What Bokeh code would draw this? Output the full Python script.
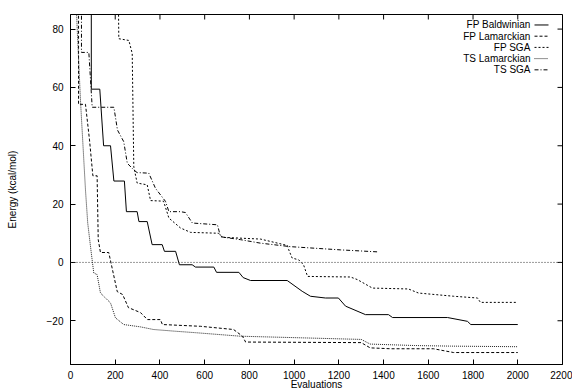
from bokeh.plotting import figure
from bokeh.models import FixedTicker, Span, Label, Range1d
from bokeh.embed import file_html
from bokeh.resources import INLINE

# ---- data ----
eval_ticks = [0, 200, 400, 600, 800, 1000, 1200, 1400, 1600, 1800, 2000, 2200]
energy_ticks = [-20, 0, 20, 40, 60, 80]

series_names = ["FP Baldwinian", "FP Lamarckian", "FP SGA", "TS Lamarckian", "TS SGA"]

fp_baldwinian_x = [93, 93, 131, 148, 179, 194, 241, 250, 298, 306, 343, 365, 410, 420, 470, 487, 544, 559,
                   641, 653, 753, 772, 805, 969, 1036, 1073, 1140, 1198, 1230, 1319, 1422, 1440, 1686, 1775,
                   1790, 2000]
fp_baldwinian_y = [100, 59.4, 59.4, 40, 40, 27.9, 27.9, 17.4, 17.4, 14, 14, 6.1, 6.1, 3.8, 3.8, -0.8, -0.8, -1.6,
                   -1.6, -3.4, -3.4, -5.2, -6.2, -6.2, -9.9, -11.6, -12.2, -12.2, -15, -17.9, -17.9, -18.9, -18.9,
                   -20.2, -21.3, -21.3]

fp_lamarckian_x = [36, 36, 67, 85, 100, 119, 124, 134, 171, 209, 233, 259, 313, 344, 402, 411, 581, 729, 769,
                   783, 1300, 1340, 1431, 1623, 1713, 2000]
fp_lamarckian_y = [100, 54.2, 54.2, 42, 29.7, 29.7, 7.8, 3.4, 3.4, -10, -11, -15.5, -17.2, -19.6, -19.6, -21.3,
                   -21.9, -23, -25.3, -27.3, -27.5, -29.3, -29.6, -29.6, -30.9, -30.9]

fp_sga_x = [213, 216, 261, 276, 283, 298, 343, 358, 416, 440, 492, 537, 662, 680, 850, 970, 976, 991, 1020, 1042,
            1060, 1252, 1283, 1350, 1511, 1556, 1713, 1820, 1833, 2000]
fp_sga_y = [100, 76.7, 76.1, 71.6, 32.8, 27.2, 26.6, 21.2, 21.0, 15.2, 11.8, 10.3, 10.0, 8.6, 8.0, 5.8, 4.3, 1.5,
            0.9, -0.8, -4.8, -5.0, -5.9, -8.8, -9.1, -10.5, -11.6, -12.2, -13.7, -13.7]

ts_lamarckian_x = [20, 30, 36, 45, 67, 77, 93, 104, 119, 134, 179, 201, 238, 313, 371, 470, 560, 760, 1300, 1340,
                   1540, 1700, 2000]
ts_lamarckian_y = [100, 80, 70, 55, 24.8, 13.5, 3.2, -3.6, -4.2, -10.5, -13.9, -19, -21.3, -22.1, -23, -23.6,
                   -24.1, -25.3, -26.4, -28, -28.5, -28.7, -28.9]

ts_sga_x = [49, 49, 82, 97, 194, 210, 238, 254, 283, 298, 350, 380, 425, 440, 492, 514, 545, 657, 671, 760, 850,
            984, 1207, 1377]
ts_sga_y = [100, 72, 72, 53.2, 53.2, 45.4, 41.4, 34, 31.7, 30.8, 30.6, 25.4, 20.9, 17.4, 17.4, 17.1, 13.5, 12.9,
            8.8, 7.8, 6.6, 5.4, 4.3, 3.6]

# ---- styling ----
FONT = "Liberation Sans"
X0, X1 = 0, 2200
Y0, Y1 = -35, 85
FRAME_W, FRAME_H = 492, 351
TICK_PX = 5

p = figure(width=572, height=392, output_backend="svg", toolbar_location=None,
           x_range=Range1d(X0, X1), y_range=Range1d(Y0, Y1),
           min_border_left=70, min_border_right=10, min_border_top=14, min_border_bottom=27)
p.xgrid.visible = False
p.ygrid.visible = False
p.outline_line_color = "black"
p.outline_line_width = 1
p.background_fill_color = "white"
p.border_fill_color = "white"


def style_axis(ax, ticks):
    ax.ticker = FixedTicker(ticks=ticks)
    ax.major_tick_in = TICK_PX
    ax.major_tick_out = 0
    ax.minor_tick_line_color = None
    ax.axis_line_color = "black"
    ax.major_tick_line_color = "black"
    ax.major_label_text_font = FONT
    ax.major_label_text_font_size = "10px"
    ax.major_label_text_color = "black"
    ax.axis_label_text_font = FONT
    ax.axis_label_text_font_size = "10px"
    ax.axis_label_text_font_style = "normal"
    ax.axis_label_text_color = "black"


xa = p.xaxis[0]
style_axis(xa, eval_ticks)
xa.axis_label = "Evaluations"
xa.major_label_standoff = 6
xa.axis_label_standoff = -3

ya = p.yaxis[0]
style_axis(ya, energy_ticks)
ya.axis_label = "Energy (kcal/mol)"
ya.major_label_standoff = 7
ya.axis_label_standoff = 26

# mirrored ticks on the top and right borders (gnuplot style)
px_per_x = FRAME_W / (X1 - X0)
px_per_y = FRAME_H / (Y1 - Y0)
tick_dy = TICK_PX / px_per_y
tick_dx = TICK_PX / px_per_x
p.segment(x0=eval_ticks, y0=[Y1] * len(eval_ticks), x1=eval_ticks, y1=[Y1 - tick_dy] * len(eval_ticks),
          line_color="black", line_width=1)
p.segment(x0=[X1] * len(energy_ticks), y0=energy_ticks, x1=[X1 - tick_dx] * len(energy_ticks), y1=energy_ticks,
          line_color="black", line_width=1)

# zero axis
p.add_layout(Span(location=0, dimension="width", line_color="#333333", line_width=1, line_dash="1 2"))

styles = [
    dict(line_dash="solid", line_color="black"),
    dict(line_dash="3 2", line_color="black"),
    dict(line_dash="2 2", line_color="black"),
    dict(line_dash="1 1", line_color="#222222"),
    dict(line_dash="4 2 1 2", line_color="black"),
]
xs = [fp_baldwinian_x, fp_lamarckian_x, fp_sga_x, ts_lamarckian_x, ts_sga_x]
ys = [fp_baldwinian_y, fp_lamarckian_y, fp_sga_y, ts_lamarckian_y, ts_sga_y]

for x, y, st in zip(xs, ys, styles):
    p.line(x, y, line_width=1, **st)

# ---- key (text right-aligned, sample to its right), gnuplot style ----
key_text_x = X0 + (530 - 70) / px_per_x
key_line_x0 = X0 + (534 - 70) / px_per_x
key_line_x1 = X0 + (548 - 70) / px_per_x
row_top_px = 24.5
row_step_px = 11.25
for i, (name, st) in enumerate(zip(series_names, styles)):
    yk = Y1 - (row_top_px + i * row_step_px - 14) / px_per_y
    p.add_layout(Label(x=key_text_x, y=yk, text=name, text_align="right", text_baseline="middle",
                       text_font=FONT, text_font_size="10px", text_color="black"))
    p.line([key_line_x0, key_line_x1], [yk, yk], line_width=1, **st)

open("out.html", "w").write(file_html(p, INLINE))
